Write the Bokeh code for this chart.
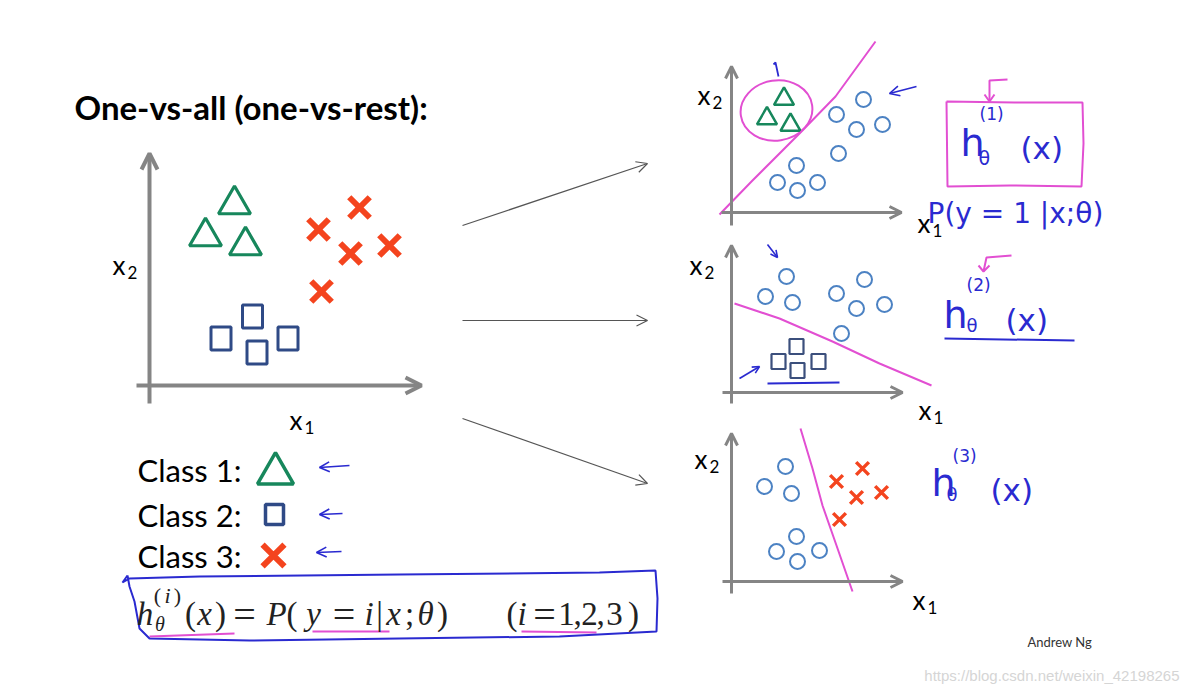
from bokeh.plotting import figure
from bokeh.models import Range1d, Arrow, OpenHead, ColumnDataSource
from bokeh.core.properties import value
from bokeh.embed import file_html
from bokeh.resources import INLINE

# ---------------- data ----------------
title_text = "One-vs-all (one-vs-rest):"

# main scatter (class 1 triangles, class 2 squares, class 3 crosses)
main_tri_x = [235, 206, 246]
main_tri_y = [206, 238, 247]
main_sq_x = [221.5, 253, 257.5, 288.5]
main_sq_y = [340, 318, 354, 340]
main_cross_x = [360, 319, 351, 390, 322]
main_cross_y = [209, 231, 255, 247, 293]

# panel 1: class 1 vs rest
p1_tri_x = [784.5, 767.5, 791]
p1_tri_y = [100.5, 120, 126.5]
p1_circ_x = [864, 837, 857, 883, 839, 797, 778, 798, 818]
p1_circ_y = [101, 116, 131, 126, 155, 167, 184, 192, 184]
p1_bound_x = [720, 752, 800, 836, 876]
p1_bound_y = [216, 183, 135, 98, 43]

# panel 2: class 2 vs rest
p2_circ_x = [787, 766, 793, 837, 865, 857, 885, 842]
p2_circ_y = [278, 298, 304, 295, 281, 310, 306, 335]
p2_sq_x = [779, 797, 798, 819]
p2_sq_y = [363, 348, 372, 363]
p2_bound_x = [735, 780, 833, 880, 932]
p2_bound_y = [305, 320, 343, 365, 387]

# panel 3: class 3 vs rest
p3_circ_x = [786, 765, 792, 797, 777, 798, 820]
p3_circ_y = [468, 488, 495, 538, 553, 563, 552]
p3_cross_x = [863, 837, 857, 882, 840]
p3_cross_y = [470, 483, 499, 494, 521]
p3_bound_x = [801, 813, 823, 837, 853]
p3_bound_y = [430, 470, 507, 547, 593]

# legend
legend_labels = ["Class 1:", "Class 2:", "Class 3:"]
legend_y = [471, 516, 557]

# axes (arrows): x_start, y_start, x_end, y_end
axis_x0 = [137, 150, 722, 732, 723, 732, 723, 732]
axis_y0 = [387, 405, 214, 227, 394, 405, 583, 595]
axis_x1 = [422, 150, 902, 732, 903, 732, 903, 732]
axis_y1 = [387, 155, 214, 68, 394, 247, 583, 435]
axis_w = [4, 4, 3, 3, 3, 3, 3, 3]
axis_head = [16, 16, 12, 12, 12, 12, 12, 12]

# connector arrows
conn_x0 = [463, 463, 463]
conn_y0 = [227, 322, 420]
conn_x1 = [648, 648, 648]
conn_y1 = [165, 322, 485]

# axis labels: "x" + subscript
xlab_x = [113, 290, 698, 918, 690, 919, 695, 913]
xlab_y = [266, 421, 96, 224, 266, 411, 460, 601]
xlab_sub = ["2", "1", "2", "1", "2", "1", "2", "1"]

# formula pieces (centre positions)
f_ital_text = ["h", "x", "P", "y", "i", "x", "θ", "i"]
f_ital_x = [145.5, 205, 277, 314, 369.5, 394, 426, 522.5]
f_up_text = ["(", ")", "(", "|", ";", ")", "(", "1", ",", "2", ",", "3", ")"]
f_up_x = [191, 221, 292.5, 380, 410, 443, 512.5, 567, 578, 590, 601, 615, 634]
f_eq_x = [245, 344.5, 545]

# hand-written annotations (blue)
hand_text = ["(1)", "h", "θ", "(x)", "P(y = 1 |x;θ)",
             "(2)", "h", "θ", "(x)",
             "(3)", "h", "θ", "(x)"]
hand_x = [980, 961, 979, 1021, 928, 967, 944, 967, 1006, 953, 932, 947, 991]
hand_y = [115, 144, 159, 149, 215, 286, 316, 327, 321, 457, 484, 496, 491]
hand_size = ["17px", "38px", "19px", "31px", "28px",
             "17px", "38px", "18px", "31px",
             "17px", "38px", "18px", "31px"]

# ---------------- figure ----------------
W, H = 1182, 687
p = figure(width=W, height=H, x_range=Range1d(1, 1 + W), y_range=Range1d(2 + H, 2),
           output_backend="svg", toolbar_location=None,
           x_axis_type=None, y_axis_type=None, min_border=0)
p.outline_line_color = None
p.background_fill_color = "white"
p.border_fill_color = "white"

GREEN = "#17875c"
NAVY = "#2f4a86"
RED = "#f4441e"
CBLUE = "#4c82c3"
PINK = "#e24fd2"
HBLUE = "#2a2ad0"
GRAY = "#858585"
INK = "#222222"

# axes
for i in range(len(axis_x0)):
    p.add_layout(Arrow(x_start=axis_x0[i], y_start=axis_y0[i], x_end=axis_x1[i], y_end=axis_y1[i],
                       line_color=GRAY, line_width=axis_w[i],
                       end=OpenHead(size=axis_head[i], line_color=GRAY, line_width=axis_w[i])))
# connectors
for i in range(len(conn_x0)):
    p.add_layout(Arrow(x_start=conn_x0[i], y_start=conn_y0[i], x_end=conn_x1[i], y_end=conn_y1[i],
                       line_color="#555555", line_width=1.2,
                       end=OpenHead(size=11, line_color="#555555", line_width=1.2)))

# main scatter
p.scatter(main_tri_x, main_tri_y, marker="triangle", size=32, fill_color=None,
          line_color=GREEN, line_width=3.2)
p.rect(main_sq_x, main_sq_y, width=20, height=23, fill_color=None, line_color=NAVY, line_width=3)
p.scatter(main_cross_x, main_cross_y, marker="x", size=29, line_color=RED, line_width=6)

# panels
p.ellipse(x=[777], y=[112], width=[72], height=[60], angle=[0.15], fill_color=None,
          line_color=PINK, line_width=2)
p.scatter(p1_tri_x, p1_tri_y, marker="triangle", size=20, fill_color=None, line_color=GREEN, line_width=2.5)
p.scatter(p1_circ_x, p1_circ_y, marker="circle", size=15, fill_color=None, line_color=CBLUE, line_width=2)
p.line(p1_bound_x, p1_bound_y, line_color=PINK, line_width=2)

p.scatter(p2_circ_x, p2_circ_y, marker="circle", size=15, fill_color=None, line_color=CBLUE, line_width=2)
p.rect(p2_sq_x, p2_sq_y, width=14, height=15, fill_color=None, line_color="#3b4f7c", line_width=2.2)
p.line(p2_bound_x, p2_bound_y, line_color=PINK, line_width=2)

p.scatter(p3_circ_x, p3_circ_y, marker="circle", size=15, fill_color=None, line_color=CBLUE, line_width=2)
p.scatter(p3_cross_x, p3_cross_y, marker="x", size=18, line_color=RED, line_width=3.5)
p.line(p3_bound_x, p3_bound_y, line_color=PINK, line_width=2)

# pink box around h1
p.line([947, 1015, 1083, 1084, 1082, 1010, 948, 947],
       [103, 104, 104, 145, 188, 187, 188, 103], line_color=PINK, line_width=2)
# pink hooks
p.multi_line([[1008, 990, 990], [985, 990, 995], [1012, 987, 984], [979, 984, 990]],
             [[81, 82, 103], [96, 103, 96], [257, 259, 273], [267, 273, 267]],
             line_color=PINK, line_width=2)

# blue / pink hand strokes
p.multi_line([[774, 776, 779], [768, 840], [945, 1075], [150, 235], [313, 390], [522, 597]],
             [[66, 64, 78], [385, 384], [340, 342], [638, 635], [633, 633], [633, 634]],
             line_color=[HBLUE, HBLUE, HBLUE, PINK, PINK, PINK], line_width=[1.8, 2, 2, 2, 2, 2])
# blue box around formula
p.line([128, 123, 130, 200, 400, 600, 656, 658, 657, 560, 400, 250, 150, 140, 135, 130, 128],
       [577, 584, 580, 578, 576, 574, 572, 600, 633, 638, 640, 642, 640, 630, 603, 588, 577],
       line_color=HBLUE, line_width=2)
# blue small arrows
hand_arr = [(350, 467, 320, 469), (343, 515, 320, 516), (342, 553, 317, 554),
            (917, 88, 890, 95), (768, 246, 778, 259), (740, 380, 760, 368)]
hand_head = [10, 10, 10, 10, 7, 7]
for (xa, ya, xb, yb), hs in zip(hand_arr, hand_head):
    p.add_layout(Arrow(x_start=xa, y_start=ya, x_end=xb, y_end=yb, line_color=HBLUE, line_width=1.6,
                       end=OpenHead(size=hs, line_color=HBLUE, line_width=1.6)))

# legend markers
p.scatter([276], [legend_y[0] + 4], marker="triangle", size=36, fill_color=None, line_color=GREEN, line_width=3.5)
p.rect([275], [legend_y[1]], width=18, height=20, fill_color=None, line_color=NAVY, line_width=3.5)
p.scatter([274], [legend_y[2]], marker="x", size=31, line_color=RED, line_width=6)

# ---------------- texts ----------------
p.text([75], [108], text=[title_text], text_font=value("Lato"), text_font_style="bold",
       text_font_size="33px", text_baseline="middle", text_color="black")
p.text([138] * 3, legend_y, text=legend_labels, text_font=value("Lato"),
       text_font_size="31px", text_baseline="middle", text_color="black")

p.text(xlab_x, xlab_y, text=["x"] * len(xlab_x), text_font=value("Lato"),
       text_font_size="26px", text_baseline="middle", text_color="black")
p.text([x + 15 for x in xlab_x], [y + 8 for y in xlab_y], text=xlab_sub, text_font=value("Lato"),
       text_font_size="17px", text_baseline="middle", text_color="black")

# formula
p.text(f_ital_x, [615] * len(f_ital_x), text=f_ital_text, text_font=value("Liberation Serif"),
       text_font_style="italic", text_font_size="33px", text_baseline="alphabetic",
       text_align="center", text_color=INK)
p.text(f_up_x, [615] * len(f_up_x), text=f_up_text, text_font=value("Liberation Serif"),
       text_font_size="33px", text_baseline="alphabetic", text_align="center", text_color=INK)
p.text(f_eq_x, [616] * len(f_eq_x), text=["="] * len(f_eq_x), text_font=value("Liberation Serif"),
       text_font_size="40px", text_baseline="alphabetic", text_align="center", text_color=INK)
p.text([158, 178], [597, 597], text=["(", ")"], text_font=value("Liberation Serif"),
       text_font_size="22px", text_baseline="alphabetic", text_align="center", text_color=INK)
p.text([168], [597], text=["i"], text_font=value("Liberation Serif"), text_font_style="italic",
       text_font_size="22px", text_baseline="alphabetic", text_align="center", text_color=INK)
p.text([160.5], [625], text=["θ"], text_font=value("Liberation Serif"),
       text_font_style="italic", text_font_size="20px", text_baseline="alphabetic",
       text_align="center", text_color=INK)

# hand-written
src = ColumnDataSource(dict(x=hand_x, y=hand_y, text=hand_text, size=hand_size))
p.text(x="x", y="y", text="text", text_font_size="size", source=src, text_font=value("DejaVu Sans"),
       text_baseline="middle", text_color=HBLUE)

p.text([1028], [643], text=["Andrew Ng"], text_font=value("Lato"), text_font_size="13px",
       text_baseline="middle", text_color="#333333")
p.text([1180], [677], text=["https://blog.csdn.net/weixin_42198265"], text_font=value("Liberation Sans"),
       text_font_size="15px", text_baseline="middle", text_align="right", text_color="#d5d5d5")

open("out.html", "w").write(file_html(p, INLINE))
